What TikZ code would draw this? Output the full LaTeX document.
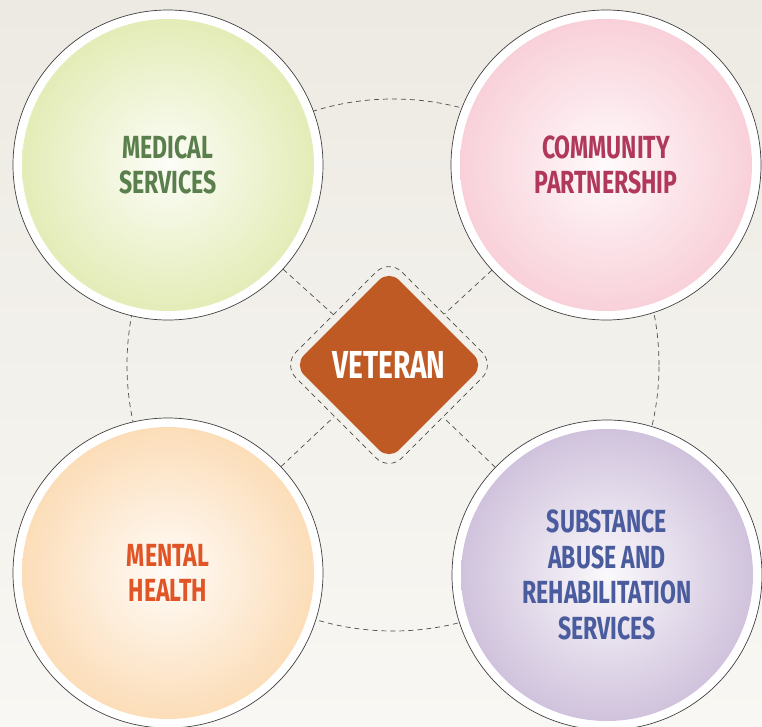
\documentclass[tikz,border=0pt]{standalone}
\usepackage{fontspec}
\usetikzlibrary{shapes.geometric,positioning}
\newfontfamily\labelfont[FakeStretch=0.72]{Fira Sans}

\begin{document}
\begin{tikzpicture}
    [x=1pt, y=-1pt,
    % Styles
    bubble/.style 2 args={circle, draw=black!75, line width=0.7pt, fill=white,
      minimum size=310pt, inner sep=0pt, align=center, text=#2,
      font=\labelfont\bfseries\fontsize{32}{35.5}\selectfont,
      path picture={
        \begin{scope}
          \clip (path picture bounding box.center) circle (146pt);
          \shade[inner color=#1!8!white, outer color=#1]
            (path picture bounding box.center) circle (195pt);
        \end{scope}}},
    link/.style={draw=black!70, line width=0.7pt, dash pattern=on 5pt off 4pt},
    vetbox/.style={diamond, fill=vetcolor, text=white, inner sep=0pt,
      minimum width=190pt, minimum height=190pt, rounded corners=14pt,
      font=\labelfont\bfseries\fontsize{39}{42}\selectfont},
    vetframe/.style={diamond, link, minimum width=212pt, minimum height=212pt,
      rounded corners=18pt}]

    % Colors
    \definecolor{bgtop}{HTML}{EDEAE3}
    \definecolor{bgbot}{HTML}{F8F7F3}
    \definecolor{medcolor}{HTML}{DBE7A2}
    \definecolor{medtext}{HTML}{5A7F4C}
    \definecolor{commcolor}{HTML}{F7C2CE}
    \definecolor{commtext}{HTML}{B0385A}
    \definecolor{mentcolor}{HTML}{FBD3A3}
    \definecolor{menttext}{HTML}{E05426}
    \definecolor{substcolor}{HTML}{C2B0D2}
    \definecolor{substtext}{HTML}{4A5C9E}
    \definecolor{vetcolor}{HTML}{C05A24}

    % Background
    \useasboundingbox (0,0) rectangle (762,726);
    \shade[top color=bgtop, bottom color=bgbot] (0,0) rectangle (762,726);

    % Ring behind the bubbles
    \draw[link] (393,365) circle (266pt);

    % Centre
    \node[vetframe] (frame) at (389,365) {};
    \node[vetbox] (vet) at (389,365) {VETERAN};

    % Bubbles
    \node[bubble={medcolor}{medtext}] (med) at (168,165) {MEDICAL\\SERVICES};
    \node[bubble={commcolor}{commtext}] (comm) at (606,165) {COMMUNITY\\PARTNERSHIP};
    \node[bubble={mentcolor}{menttext}] (ment) at (168,573) {MENTAL\\HEALTH};
    \node[bubble={substcolor}{substtext}] (subst) at (607,575)
      {SUBSTANCE\\ABUSE AND\\REHABILITATION\\SERVICES};

    % Links to the centre
    \foreach \b in {med,comm,ment,subst}
    \draw[link] (\b) -- (frame);
\end{tikzpicture}
\end{document}
